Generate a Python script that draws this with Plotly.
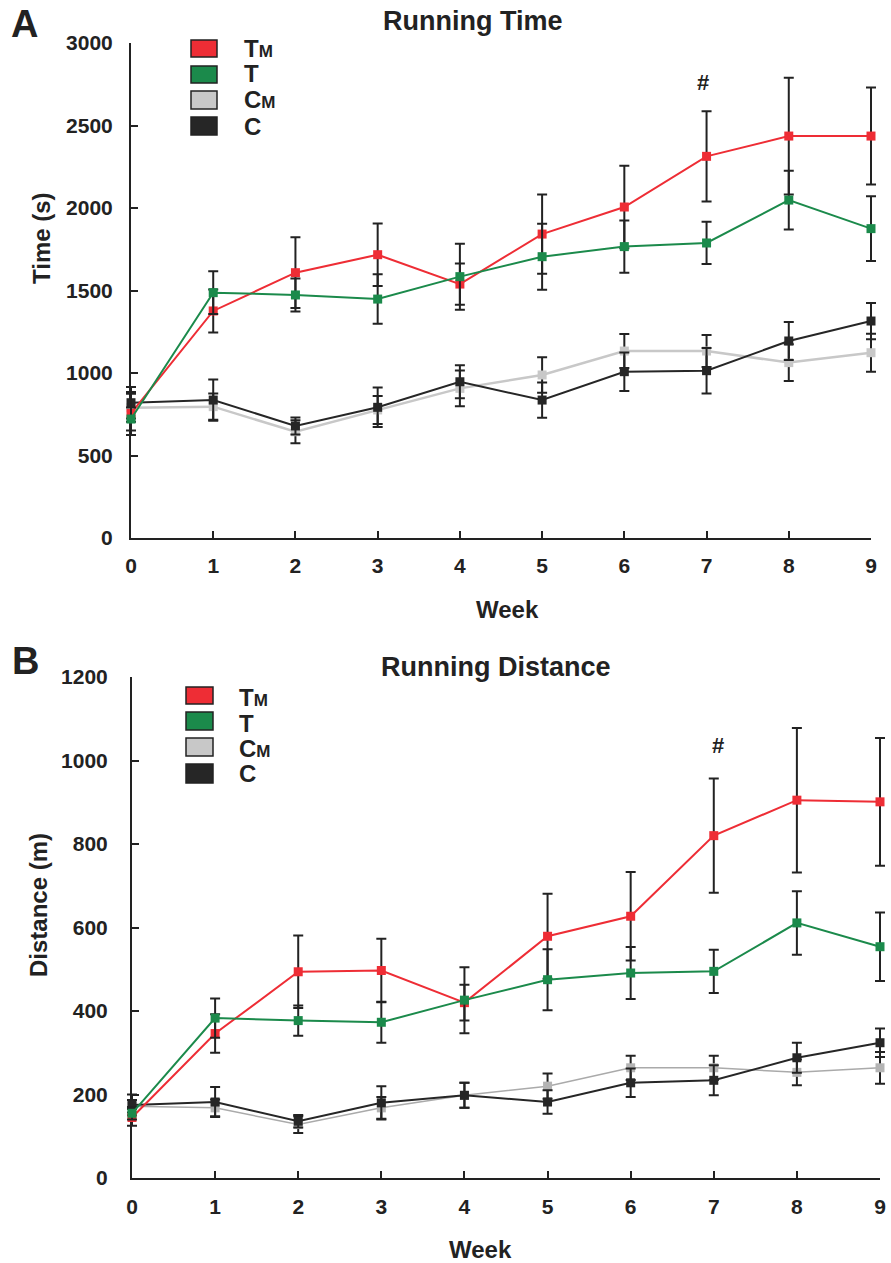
import plotly.graph_objects as go

W, H = 891, 1263
FONT = "Liberation Sans, Arial, sans-serif"
INK = "#222222"

weeks = [0, 1, 2, 3, 4, 5, 6, 7, 8, 9]
series_names = ["Tm", "T", "Cm", "C"]
colors = {"Tm": "#ee2d35", "T": "#1b8a4b", "Cm": "#c8c8c8", "C": "#262626"}
legend_labels = {
    "Tm": "T<span style='font-size:17px'>M</span>",
    "T": "T",
    "Cm": "C<span style='font-size:17px'>M</span>",
    "C": "C",
}

# Panel A: Running time (s)
time_Tm = [755, 1376, 1608, 1717, 1539, 1842, 2006, 2313, 2436, 2436]
time_Tm_se = [130, 130, 214, 189, 125, 240, 250, 273, 354, 294]
time_T = [721, 1487, 1473, 1448, 1584, 1705, 1766, 1788, 2048, 1875]
time_T_se = [70, 130, 100, 150, 200, 200, 158, 128, 178, 196]
time_Cm = [790, 796, 644, 776, 907, 988, 1133, 1133, 1063, 1123]
time_Cm_se = [85, 80, 70, 85, 108, 108, 103, 97, 111, 115]
time_C = [820, 836, 679, 792, 947, 836, 1008, 1014, 1194, 1315]
time_C_se = [95, 125, 52, 120, 100, 107, 117, 138, 115, 110]

# Panel B: Running distance (m)
dist_Tm = [145, 346, 494, 497, 420, 579, 627, 820, 905, 901]
dist_Tm_se = [20, 46, 87, 76, 43, 102, 106, 137, 173, 153]
dist_T = [155, 383, 377, 373, 426, 475, 491, 495, 611, 554]
dist_T_se = [15, 47, 36, 49, 79, 73, 62, 52, 76, 82]
dist_Cm = [172, 168, 128, 168, 198, 220, 264, 264, 253, 264]
dist_Cm_se = [15, 20, 20, 26, 30, 30, 29, 29, 31, 38]
dist_C = [175, 182, 136, 180, 198, 182, 228, 234, 288, 324]
dist_C_se = [25, 36, 15, 40, 30, 28, 34, 36, 36, 34]

time_ticks = [0, 500, 1000, 1500, 2000, 2500, 3000]
dist_ticks = [0, 200, 400, 600, 800, 1000, 1200]

panelA = {"Tm": (time_Tm, time_Tm_se), "T": (time_T, time_T_se),
          "Cm": (time_Cm, time_Cm_se), "C": (time_C, time_C_se)}
panelB = {"Tm": (dist_Tm, dist_Tm_se), "T": (dist_T, dist_T_se),
          "Cm": (dist_Cm, dist_Cm_se), "C": (dist_C, dist_C_se)}


def px(x):
    return x / W


def py(y):
    return 1 - y / H


# Visible panel frames (pixels): left, right, top, bottom and axis ranges
frames = {
    "A": dict(l=131, r=871, t=43, b=538, xr=(0, 9), yr=(0, 3000)),
    "B": dict(l=132, r=880, t=677, b=1178, xr=(0, 9), yr=(0, 1200)),
}
PAD = 10  # hidden data axes extend past the frame so edge error-bar caps are not clipped


def padded(f):
    sx = (f["xr"][1] - f["xr"][0]) / (f["r"] - f["l"])
    sy = (f["yr"][1] - f["yr"][0]) / (f["b"] - f["t"])
    xdom = [px(f["l"] - PAD), px(f["r"] + PAD)]
    ydom = [py(f["b"] + PAD), py(f["t"] - PAD)]
    xr = [f["xr"][0] - PAD * sx, f["xr"][1] + PAD * sx]
    yr = [f["yr"][0] - PAD * sy, f["yr"][1] + PAD * sy]
    return xdom, ydom, xr, yr


fig = go.Figure()
# keep visible axes alive with empty traces
for xa, ya in [("x", "y"), ("x2", "y2")]:
    fig.add_trace(go.Scatter(x=[None], y=[None], xaxis=xa, yaxis=ya,
                             showlegend=False, hoverinfo="skip"))

draw_order = ["Cm", "C", "Tm", "T"]
for panel, xa, ya, key in [(panelA, "x3", "y3", "A"), (panelB, "x4", "y4", "B")]:
    for name in draw_order:
        vals, se = panel[name]
        lw = 2
        lc = colors[name]
        mc = colors[name]
        if name == "Cm" and key == "B":
            lw = 1.5
            lc = "#aaaaaa"
            mc = "#b4b4b4"
        if name == "Cm" and key == "A":
            lw = 2.5
        fig.add_trace(go.Scatter(
            x=weeks, y=vals, xaxis=xa, yaxis=ya, mode="lines+markers",
            name=name, showlegend=False, cliponaxis=False,
            line=dict(color=lc, width=lw),
            marker=dict(symbol="square", size=9, color=mc),
            error_y=dict(type="data", array=se, color=INK, thickness=2, width=5),
        ))

axis_common = dict(showline=True, linecolor=INK, linewidth=2, ticks="inside",
                   ticklen=7, tickwidth=2, tickcolor=INK, showgrid=False,
                   zeroline=False, automargin=False,
                   tickfont=dict(family=FONT, size=21, color=INK, weight="bold"))
hidden = dict(visible=False, showgrid=False, zeroline=False, automargin=False,
              fixedrange=True)

fA, fB = frames["A"], frames["B"]
xdA, ydA, xrA, yrA = padded(fA)
xdB, ydB, xrB, yrB = padded(fB)

fig.update_layout(
    width=W, height=H, autosize=False,
    margin=dict(l=0, r=0, t=0, b=0, pad=0),
    paper_bgcolor="white", plot_bgcolor="rgba(0,0,0,0)",
    xaxis=dict(domain=[px(fA["l"]), px(fA["r"])], range=list(fA["xr"]), tickvals=weeks,
               anchor="y", ticklabelstandoff=8, **axis_common),
    yaxis=dict(domain=[py(fA["b"]), py(fA["t"])], range=list(fA["yr"]), tickvals=time_ticks,
               anchor="x", ticklabelstandoff=12, **axis_common),
    xaxis2=dict(domain=[px(fB["l"]), px(fB["r"])], range=list(fB["xr"]), tickvals=weeks,
                anchor="y2", ticklabelstandoff=9, **axis_common),
    yaxis2=dict(domain=[py(fB["b"]), py(fB["t"])], range=list(fB["yr"]), tickvals=dist_ticks,
                anchor="x2", ticklabelstandoff=18, **axis_common),
    xaxis3=dict(domain=xdA, range=xrA, anchor="y3", **hidden),
    yaxis3=dict(domain=ydA, range=yrA, anchor="x3", **hidden),
    xaxis4=dict(domain=xdB, range=xrB, anchor="y4", **hidden),
    yaxis4=dict(domain=ydB, range=yrB, anchor="x4", **hidden),
)

ann = []


def text(x, y, s, size, angle=0, xanchor="center"):
    ann.append(dict(x=px(x), y=py(y), xref="paper", yref="paper", text=s,
                    showarrow=False, xanchor=xanchor, yanchor="middle",
                    textangle=angle,
                    font=dict(family=FONT, size=size, color=INK, weight="bold")))


text(24, 24, "A", 38)
text(25, 661, "B", 38)
text(473, 21, "Running Time", 27)
text(496, 667, "Running Distance", 27)
text(508, 609, "Week", 24)
text(480, 1249, "Week", 24)
text(41, 238, "Time (s)", 24, angle=-90)
text(38, 905, "Distance (m)", 24, angle=-90)
text(703, 83, "#", 22)
text(718, 745, "#", 22)

shapes = []
legA = {"Tm": (40, 57, 48), "T": (66, 83, 73), "Cm": (91, 109, 100), "C": (117, 135, 126)}
legB = {"Tm": (687, 704, 697), "T": (712, 730, 723), "Cm": (738, 756, 748), "C": (764, 783, 773)}
for leg, x0, x1, tx in [(legA, 191, 217, 242), (legB, 186, 213, 237)]:
    for name in series_names:
        y0, y1, ty = leg[name]
        shapes.append(dict(type="rect", xref="paper", yref="paper",
                           x0=px(x0), x1=px(x1), y0=py(y1), y1=py(y0),
                           fillcolor=colors[name], line=dict(color=INK, width=1.5)))
        text(tx, ty, legend_labels[name], 24, xanchor="left")

fig.update_layout(annotations=ann, shapes=shapes)
# remove the page's default body margin so the 891x1263 figure fills the window
fig.write_html("out.html", config={"displayModeBar": False},
               post_script="document.body.style.margin='0';document.body.style.overflow='hidden';")
